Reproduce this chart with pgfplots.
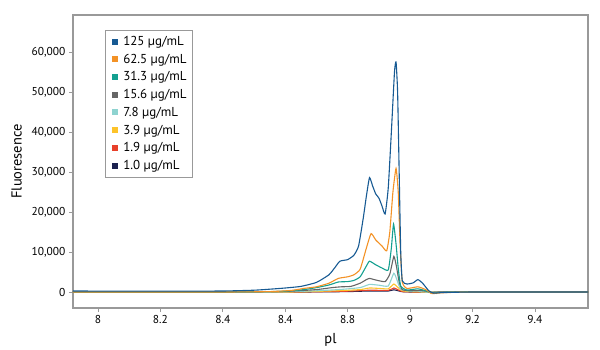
\documentclass[border=0pt]{standalone}
\usepackage{fontspec}
\setmainfont{PT Sans}
\usepackage{pgfplots}
\pgfplotsset{compat=1.18}
\definecolor{c125}{HTML}{175A93}
\definecolor{c62}{HTML}{F39226}
\definecolor{c31}{HTML}{14A090}
\definecolor{c15}{HTML}{666666}
\definecolor{c7}{HTML}{8ED3D0}
\definecolor{c3}{HTML}{FDC32A}
\definecolor{c1a}{HTML}{E8402A}
\definecolor{c1b}{HTML}{1B2150}
\begin{document}
\begin{tikzpicture}
\useasboundingbox (-73bp,-42bp) rectangle (527bp,308bp);
\begin{axis}[
 at={(0,0)}, anchor=south west,
 scale only axis, width=515bp, height=293bp,
 xmin=7.92, xmax=9.57, ymin=-4000, ymax=69250,
 axis line style={draw=black!40, line width=1.2bp},
 xtick={8,8.2,8.4,8.6,8.8,9,9.2,9.4},
 xticklabels={8,8.2,8.4,8.4,8.8,9,9.2,9.4},
 ytick={0,10000,20000,30000,40000,50000,60000},
 scaled y ticks=false,
 yticklabel style={/pgf/number format/fixed, /pgf/number format/1000 sep={,}},
 /pgf/number format/assume math mode=true,
 tick align=outside, xtick pos=bottom, ytick pos=left,
 major tick length=4bp,
 tick style={draw=black!40, line width=0.8bp},
 ticklabel style={font=\fontsize{11.5}{13}\selectfont},
 xlabel={pl}, ylabel={Fluoresence},
 label style={font=\fontsize{14.5}{16}\selectfont},
 xlabel style={yshift=-3bp},
 ylabel style={yshift=3bp},
 legend style={at={(0.062,0.949)}, anchor=north west, draw=black!40, line width=0.8bp,
   font=\fontsize{13}{14.5}\selectfont, row sep=3bp, inner sep=4bp},
 legend cell align=left,
 reverse legend,
 every axis plot/.append style={line width=1.1bp, smooth, tension=0.3},
 legend image code/.code={\draw[#1, line width=6bp] (1.5bp,0bp) -- (7.5bp,0bp);},
]
\addplot[c1b] coordinates {(7.92,0) (8.6,0) (8.7,20) (8.8,100) (8.87,250) (8.93,250) (8.948,550) (8.965,250) (8.98,30) (9.06,0) (9.57,0)};
\addlegendentry{1.0 µg/mL}
\addplot[c1a] coordinates {(7.92,0) (8.6,0) (8.7,50) (8.8,200) (8.87,450) (8.93,400) (8.948,1000) (8.965,400) (8.98,50) (9.06,0) (9.57,0)};
\addlegendentry{1.9 µg/mL}
\addplot[c3] coordinates {(7.92,0) (8.6,0) (8.7,150) (8.78,350) (8.84,600) (8.87,1000) (8.9,900) (8.93,800) (8.948,2000) (8.96,1200) (8.975,300) (9.0,100) (9.06,0) (9.57,0)};
\addlegendentry{3.9 µg/mL}
\addplot[c7] coordinates {(7.92,0) (8.5,0) (8.6,50) (8.7,300) (8.78,650) (8.84,1100) (8.87,1900) (8.9,1700) (8.93,1500) (8.948,4700) (8.958,3000) (8.97,700) (9.0,200) (9.03,250) (9.06,0) (9.57,0)};
\addlegendentry{7.8 µg/mL}
\addplot[c15] coordinates {(7.92,0) (8.4,0) (8.6,150) (8.7,600) (8.75,1100) (8.78,1300) (8.81,1400) (8.84,2200) (8.86,3100) (8.87,3400) (8.89,3000) (8.92,2600) (8.935,4500) (8.948,8900) (8.956,6500) (8.965,2500) (8.975,600) (9.0,300) (9.03,400) (9.06,100) (9.075,-200) (9.1,0) (9.57,0)};
\addlegendentry{15.6 µg/mL}
\addplot[c31] coordinates {(7.92,0) (8.4,0) (8.55,100) (8.6,200) (8.66,600) (8.7,1100) (8.74,1750) (8.77,2500) (8.8,2600) (8.82,2900) (8.84,3800) (8.86,6500) (8.87,7700) (8.89,6800) (8.91,6000) (8.93,5500) (8.94,11000) (8.947,17000) (8.955,12000) (8.962,6000) (8.97,1500) (8.99,500) (9.025,800) (9.05,300) (9.07,-300) (9.1,-100) (9.2,0) (9.57,0)};
\addlegendentry{31.3 µg/mL}
\addplot[c62] coordinates {(7.92,0) (8.4,0) (8.55,100) (8.62,400) (8.66,900) (8.7,1300) (8.74,2200) (8.77,3400) (8.8,3800) (8.82,4300) (8.84,5700) (8.86,11000) (8.875,14600) (8.89,13000) (8.91,11500) (8.925,10300) (8.935,15000) (8.945,25000) (8.955,30900) (8.962,25000) (8.968,12000) (8.975,2500) (8.99,900) (9.025,1300) (9.05,600) (9.07,-400) (9.1,-200) (9.2,0) (9.57,0)};
\addlegendentry{62.5 µg/mL}
\addplot[c125] coordinates {(7.92,250) (8.0,230) (8.2,200) (8.4,250) (8.5,450) (8.55,700) (8.6,1000) (8.65,1400) (8.7,2400) (8.74,4300) (8.76,6200) (8.775,7700) (8.8,8100) (8.82,9200) (8.835,11500) (8.85,18500) (8.86,24000) (8.87,28600) (8.88,26500) (8.89,24500) (8.9,23500) (8.91,21500) (8.92,19500) (8.93,26000) (8.94,40000) (8.95,55000) (8.955,57500) (8.96,50000) (8.965,30000) (8.97,10000) (8.975,2800) (8.99,2000) (9.01,2300) (9.025,3100) (9.04,2200) (9.06,300) (9.075,-300) (9.1,-150) (9.2,0) (9.4,0) (9.57,0)};
\addlegendentry{125 µg/mL}
\end{axis}
\end{tikzpicture}
\end{document}
